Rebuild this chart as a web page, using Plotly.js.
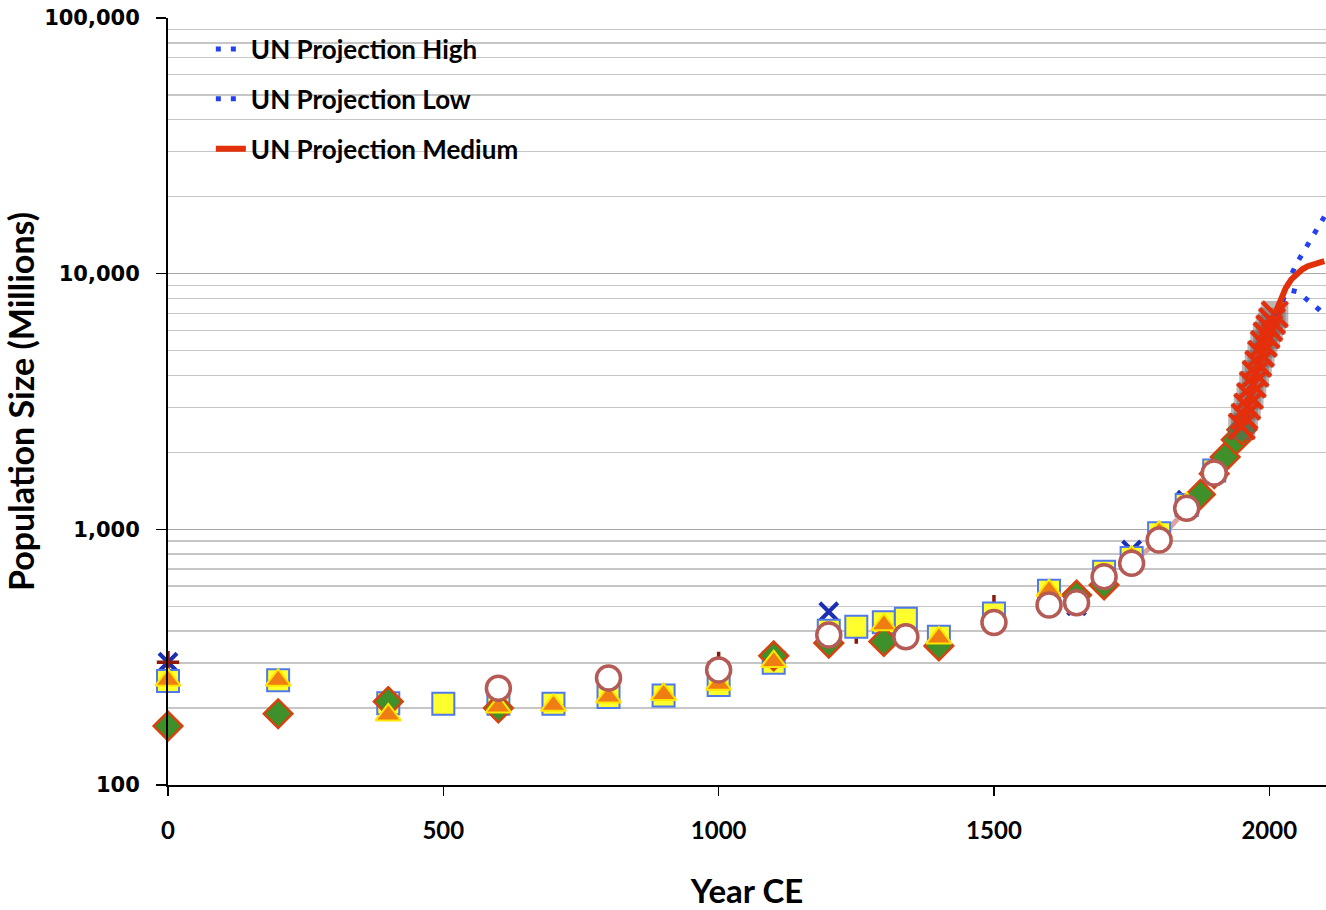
<!DOCTYPE html>
<html>
<head>
<meta charset="utf-8">
<script src="https://cdn.plot.ly/plotly-3.0.1.min.js"></script>
<style>html,body{margin:0;padding:0;background:#fff;}#chart{width:1326px;height:910px;}</style>
</head>
<body>
<div id="chart"></div>
<script>
// ---- data (millions) ----
const squareYears = [0,200,400,500,600,700,800,900,1000,1100,1200,1250,1300,1340,1400,1500,1600,1700,1750,1800,1850,1900];
const squareVals  = [255,257,209,208,208,208,221,224,246,301,401,416,433,447,380,469,575,683,773,965,1245,1700];

const triangleYears = [0,200,400,600,700,800,900,1000,1100,1300,1400,1600,1750,1800,1850];
const triangleVals  = [257,257,188,202,205,221,226,248,304,423,376,576,780,975,1260];

const diamondYears = [0,200,400,600,1100,1200,1300,1400,1650,1700,1875,1900,1920,1940,1950];
const diamondVals  = [170,190,212,200,320,359,364,350,553,606,1370,1650,1920,2240,2450];

const circleYears = [600,800,1000,1200,1340,1500,1600,1650,1700,1750,1800,1850,1900];
const circleVals  = [239,262,282,386,380,432,506,516,653,736,909,1208,1660];

const blueXYears = [0,1200,1650,1750,1850,1950];
const blueXVals  = [302,476,502,830,1300,2560];

const plusYears = [0,1000,1250,1500];
const plusVals  = [302,300,395,500];

const pinkYears = [1750,1800,1850,1900,1950];
const pinkVals  = [736,909,1208,1660,2520];

const unYears = [1950,1955,1960,1965,1970,1975,1980,1985,1990,1995,2000,2005,2010];
const unVals  = [2525,2758,3018,3322,3682,4061,4440,4853,5310,5735,6127,6520,6930];

const projYears  = [2010,2020,2030,2040,2050,2060,2070,2080,2090,2100];
const projHigh   = [6930,7500,8600,9900,11000,12000,13100,14300,15600,16700];
const projLow    = [6930,7600,8300,8600,8500,8200,7900,7600,7250,6900];
const projMedium = [6930,7900,8800,9500,10000,10400,10700,10900,11100,11200];

const legendNames = ['UN Projection High','UN Projection Low','UN Projection Medium'];

const yTickVals = [100,1000,10000,100000];
const yTickText = ['100','1,000','10,000','100,000'];
const xTickVals = [0,500,1000,1500,2000];

// ---- traces ----
function mk(x, y, marker, extra) {
  return Object.assign({type:'scatter', mode:'markers', x:x, y:y, marker:marker,
    showlegend:false, cliponaxis:false, hoverinfo:'x+y'}, extra||{});
}
const traces = [
  {type:'scatter', mode:'lines', x:pinkYears, y:pinkVals, line:{color:'#dba3a0', width:5},
   showlegend:false, hoverinfo:'skip'},
  mk(blueXYears, blueXVals, {symbol:'x-thin-open', size:18, color:'#1c2fb3', line:{width:4, color:'#1c2fb3'}}),
  mk(plusYears, plusVals, {symbol:'cross-thin-open', size:16, color:'#8c1a0c', line:{width:3.5, color:'#8c1a0c'}}),
  mk(squareYears, squareVals, {symbol:'square', size:22, color:'#ffff2e', line:{width:2, color:'#4f79e8'}}),
  mk(diamondYears, diamondVals, {symbol:'diamond', size:22, color:'#3f8f2a', line:{width:2.5, color:'#d9420f'}}),
  mk(triangleYears, triangleVals, {symbol:'triangle-up', size:22, color:'#ef7d14', line:{width:2, color:'#ffe600'}}),
  mk(circleYears, circleVals, {symbol:'circle', size:24, color:'#ffffff', line:{width:3.5, color:'#b55a55'}}),
  mk(unYears, unVals, {symbol:'square', size:27, color:'rgba(105,95,95,0.45)', line:{width:0}}),
  {type:'scatter', mode:'lines+markers', x:unYears, y:unVals, showlegend:false, cliponaxis:false,
   line:{color:'#e52e0b', width:6},
   marker:{symbol:'x-thin-open', size:25, color:'#e52e0b', line:{width:4.5, color:'#e52e0b'}}},
  {type:'scatter', mode:'lines', name:legendNames[0], legendgroup:'a', x:projYears, y:projHigh,
   line:{color:'#2540f0', width:5, dash:'5px,10px'}},
  {type:'scatter', mode:'lines', name:legendNames[1], legendgroup:'b', x:projYears, y:projLow,
   line:{color:'#2540f0', width:5, dash:'5px,10px'}},
  {type:'scatter', mode:'lines', name:legendNames[2], legendgroup:'c', x:projYears, y:projMedium,
   line:{color:'#e2300a', width:6}}
];

const layout = {
  width:1326, height:910,
  margin:{l:168, r:0, t:18, b:125, pad:0},
  paper_bgcolor:'#ffffff', plot_bgcolor:'#ffffff',
  showlegend:true,
  legend:{x:0.037, y:0.99, xanchor:'left', yanchor:'top', bgcolor:'rgba(0,0,0,0)',
    tracegroupgap:13, traceorder:'grouped',
    font:{family:'Lato, "Open Sans", sans-serif', size:26, color:'#000', weight:'bold'}},
  xaxis:{
    type:'linear', range:[0,2103], showgrid:false, zeroline:false,
    showline:true, linecolor:'#000', linewidth:2,
    ticks:'outside', ticklen:9, tickwidth:1.5, tickcolor:'#000',
    tickmode:'array', tickvals:xTickVals,
    tickfont:{family:'Lato, "Open Sans", sans-serif', size:24, color:'#000', weight:'bold'},
    ticklabelstandoff:14,
    title:{text:'Year CE', font:{family:'Lato, "Open Sans", sans-serif', size:33, color:'#000', weight:'bold'}, standoff:44}
  },
  yaxis:{
    type:'log', range:[2,5], zeroline:false,
    showline:true, linecolor:'#000', linewidth:2, mirror:true,
    showgrid:true, gridcolor:'#a9a9a9', gridwidth:1.5,
    ticks:'outside', ticklen:10, tickwidth:1.5, tickcolor:'#000',
    tickmode:'array', tickvals:yTickVals, ticktext:yTickText,
    tickfont:{family:'"DejaVu Sans", sans-serif', size:21, color:'#000', weight:'bold'},
    ticklabelstandoff:12,
    minor:{dtick:'D1', showgrid:true, gridcolor:'#c6c6c6', gridwidth:1.5, ticks:''},
    title:{text:'Population Size (Millions)', font:{family:'Lato, "Open Sans", sans-serif', size:34, color:'#000', weight:'bold'}, standoff:8}
  }
};

Plotly.newPlot('chart', traces, layout, {displayModeBar:false, staticPlot:true});
</script>
</body>
</html>
